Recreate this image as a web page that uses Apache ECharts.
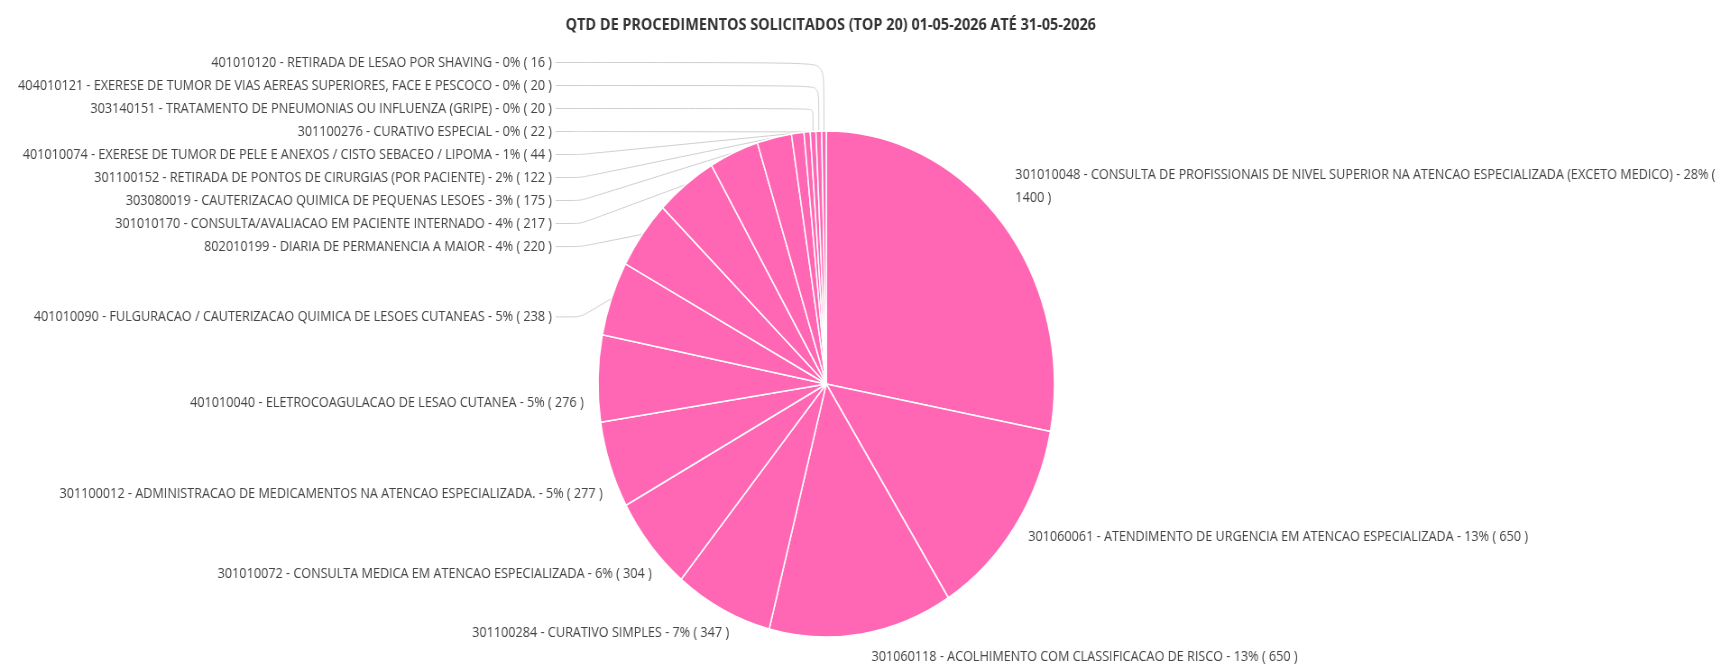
<!DOCTYPE html>
<html>
<head>
<meta charset="utf-8">
<script src="https://cdn.jsdelivr.net/npm/echarts@6/dist/echarts.min.js"></script>
<style>
html,body{margin:0;padding:0;background:#fff;overflow:hidden;width:1721px;height:664px;}
#wrap{width:1721px;height:664px;overflow:hidden;position:relative;}
#chart{width:1908px;height:664px;transform:scaleX(0.902);transform-origin:0 0;position:absolute;left:0;top:0;}
</style>
</head>
<body>
<div id="wrap"><div id="chart"></div></div>
<script>
const titleText = 'QTD DE PROCEDIMENTOS SOLICITADOS (TOP 20) 01-05-2026 ATÉ 31-05-2026';
const categories = [
  '301010048 - CONSULTA DE PROFISSIONAIS DE NIVEL SUPERIOR NA ATENCAO ESPECIALIZADA (EXCETO MEDICO)',
  '301060061 - ATENDIMENTO DE URGENCIA EM ATENCAO ESPECIALIZADA',
  '301060118 - ACOLHIMENTO COM CLASSIFICACAO DE RISCO',
  '301100284 - CURATIVO SIMPLES',
  '301010072 - CONSULTA MEDICA EM ATENCAO ESPECIALIZADA',
  '301100012 - ADMINISTRACAO DE MEDICAMENTOS NA ATENCAO ESPECIALIZADA.',
  '401010040 - ELETROCOAGULACAO DE LESAO CUTANEA',
  '401010090 - FULGURACAO / CAUTERIZACAO QUIMICA DE LESOES CUTANEAS',
  '802010199 - DIARIA DE PERMANENCIA A MAIOR',
  '301010170 - CONSULTA/AVALIACAO EM PACIENTE INTERNADO',
  '303080019 - CAUTERIZACAO QUIMICA DE PEQUENAS LESOES',
  '301100152 - RETIRADA DE PONTOS DE CIRURGIAS (POR PACIENTE)',
  '401010074 - EXERESE DE TUMOR DE PELE E ANEXOS / CISTO SEBACEO / LIPOMA',
  '301100276 - CURATIVO ESPECIAL',
  '303140151 - TRATAMENTO DE PNEUMONIAS OU INFLUENZA (GRIPE)',
  '404010121 - EXERESE DE TUMOR DE VIAS AEREAS SUPERIORES, FACE E PESCOCO',
  '401010120 - RETIRADA DE LESAO POR SHAVING'
];
const values = [1400, 650, 650, 347, 304, 277, 276, 238, 220, 217, 175, 122, 44, 22, 20, 20, 16];
const percents = [28, 13, 13, 7, 6, 5, 5, 5, 4, 4, 3, 2, 1, 0, 0, 0, 0];

// ---- pie geometry (chart pixel space) ----
const CX = 916, CY = 384, R = 253;
const LABEL_H = 23;       // label line height
const LINE_OUT = 6;       // radial label line length
const LABEL_GAP = 18;     // distance from pie edge to label text
const COL_OFFSET = 51;    // upper-left labels column distance from pie edge
const TARGET_BIAS = 6;
const LEFT_EXTRA = 19;
const RIGHT_UP = 60;
const RIGHT_DOWN = 22;

// Label layout: distribute labels per side without overlap (groups centred on their targets)
function computeLabelLayout() {
  const total = values.reduce((a, b) => a + b, 0);
  let cum = 0;
  const items = values.map((v, i) => {
    const th = 2 * Math.PI * (cum + v / 2) / total;
    cum += v;
    const s = Math.sin(th), c = Math.cos(th);
    const left = s < 0;
    const extra = left
      ? LEFT_EXTRA * (1 - c) * Math.sqrt(1 + c)
      : -RIGHT_UP * Math.max(0, c) + RIGHT_DOWN * Math.max(0, -c - 0.5);
    return {
      i, s, c, left,
      edge: [CX + R * s, CY - R * c],
      nx: CX + (R + LINE_OUT) * s + (left ? -10 : 10),
      t: CY - (R + LINE_OUT) * c + TARGET_BIAS + extra
    };
  });
  function distribute(list) {
    list.sort((a, b) => a.t - b.t);
    let groups = list.map(it => ({items: [it], sum: it.t, n: 1}));
    let changed = true;
    while (changed) {
      changed = false;
      for (let k = 0; k < groups.length - 1; k++) {
        const g1 = groups[k], g2 = groups[k + 1];
        const c1 = g1.sum / g1.n, c2 = g2.sum / g2.n;
        if (c1 + g1.n * LABEL_H / 2 > c2 - g2.n * LABEL_H / 2) {
          groups.splice(k, 2, {items: g1.items.concat(g2.items), sum: g1.sum + g2.sum, n: g1.n + g2.n});
          changed = true;
          break;
        }
      }
    }
    groups.forEach(g => {
      const top = g.sum / g.n - g.n * LABEL_H / 2;
      g.items.forEach((it, j) => { it.y = top + LABEL_H / 2 + j * LABEL_H; });
    });
  }
  distribute(items.filter(it => it.left));
  distribute(items.filter(it => !it.left));
  const RL = R + LABEL_GAP;
  const out = [];
  items.forEach(it => {
    const dy = it.y - CY;
    const curve = Math.abs(dy) < RL ? Math.sqrt(RL * RL - dy * dy) : 0;
    let x, align, pts;
    const E = it.edge;
    if (it.left && it.y < CY) {
      x = CX - R - COL_OFFSET;
      align = 'right';
      const p3 = [x + 4, it.y];
      const p2 = it.y < E[1] - 4 ? [E[0], it.y] : [p3[0] + 28, it.y];
      pts = [E, p2, p3];
    } else {
      x = it.left ? Math.max(it.nx, CX - curve) : it.nx;
      align = it.left ? 'right' : 'left';
      pts = [E, E, E];
    }
    out[it.i] = {x, y: it.y, align, pts};
  });
  return out;
}
const labelPos = computeLabelLayout();

const chart = echarts.init(document.getElementById('chart'));
chart.setOption({
  animation: false,
  backgroundColor: '#fff',
  title: {
    text: titleText,
    left: CX,
    textAlign: 'center',
    top: 12,
    textStyle: {fontFamily: 'Open Sans', fontSize: 16, fontWeight: 'bold', color: '#333'}
  },
  series: [{
    type: 'pie',
    center: [CX, CY],
    radius: R,
    startAngle: 90,
    clockwise: true,
    avoidLabelOverlap: true,
    itemStyle: {color: '#ff66b3', borderColor: '#fff', borderWidth: 1.5},
    label: {
      show: true,
      position: 'outside',
      fontFamily: 'Open Sans',
      fontSize: 14,
      lineHeight: LABEL_H,
      color: '#444',
      overflow: 'break',
      bleedMargin: 0,
      formatter: p => p.name + ' - ' + percents[p.dataIndex] + '% ( ' + p.value + ' )'
    },
    labelLine: {show: true, length: LINE_OUT, length2: 5, smooth: 0.15, lineStyle: {color: '#cfcfcf', width: 1}},
    labelLayout: function (params) {
      const p = labelPos[params.dataIndex];
      return {x: p.x, y: p.y, align: p.align, verticalAlign: 'middle', labelLinePoints: p.pts};
    },
    emphasis: {disabled: true},
    data: categories.map((c, i) => ({name: c, value: values[i]}))
  }]
});
</script>
</body>
</html>
